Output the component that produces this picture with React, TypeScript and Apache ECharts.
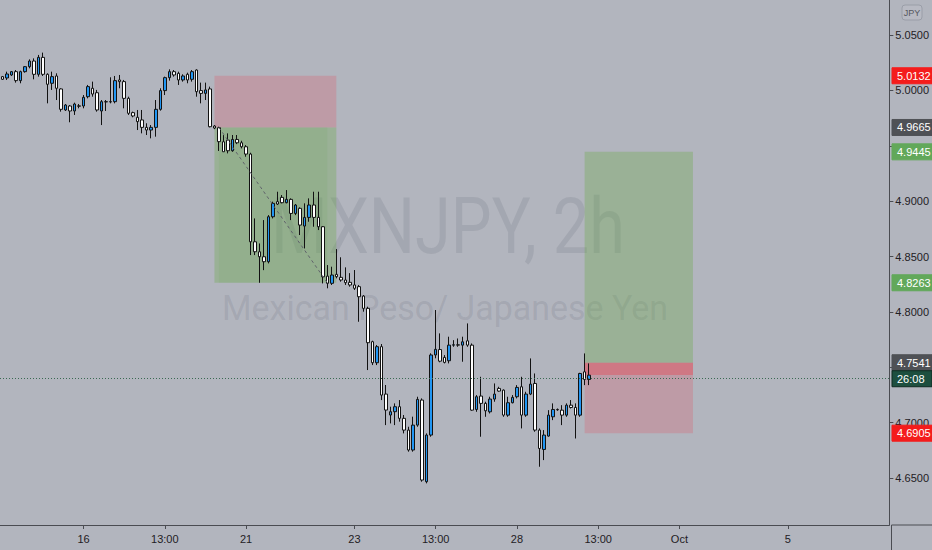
import React, { useEffect, useRef } from "react";
import * as echarts from "echarts";

// ---- candle data (MXNJPY, 2h) : open / close / low / high ----
const opens = [
  5.0124, 5.0112, 5.0139, 5.0169, 5.0088, 5.0169, 5.0214, 5.0265, 5.0145, 5.0298,
  5.0145, 5.0064, 5.013, 5.0013, 4.9823, 4.9859, 4.9814, 4.986, 4.9859, 4.9943,
  5.0019, 4.9979, 4.9814, 4.9898, 4.9896, 4.9898, 5.0094, 5.0079, 4.9928, 4.9799,
  4.9757, 4.9733, 4.9666, 4.9642, 4.9666, 4.9829, 4.9998, 5.0115, 5.0169, 5.0154,
  5.0094, 5.0145, 5.01, 5.0184, 4.9998, 4.9973, 5.0013, 4.9678, 4.9663, 4.9536,
  4.9551, 4.9455, 4.9557, 4.9527, 4.9491, 4.9425, 4.8633, 4.8543, 4.8498, 4.8453,
  4.8859, 4.8995, 4.9034, 4.8986, 4.9016, 4.8889, 4.8935, 4.8775, 4.8853, 4.8965,
  4.8853, 4.8769, 4.8323, 4.8258, 4.8339, 4.8312, 4.8288, 4.8267, 4.8243, 4.8228,
  4.8143, 4.8032, 4.7731, 4.7541, 4.7686, 4.7258, 4.7069, 4.7099, 4.7144, 4.7039,
  4.6933, 4.6753, 4.6978, 4.7204, 4.6467, 4.6888, 4.7611, 4.766, 4.7589, 4.7559,
  4.77, 4.7703, 4.77, 4.7739, 4.77, 4.7119, 4.724, 4.7174, 4.7098, 4.7213,
  4.7309, 4.7294, 4.7068, 4.718, 4.7234, 4.7324, 4.7068, 4.7258, 4.7354, 4.6933,
  4.6758, 4.6879, 4.7053, 4.7119, 4.7113, 4.7068, 4.7158, 4.7137, 4.7068, 4.7459,
  4.739,
];
const closes = [
  5.01, 5.0148, 5.0169, 5.0088, 5.0169, 5.0214, 5.0265, 5.0145, 5.0298, 5.0145,
  5.0055, 5.0124, 5.0019, 4.9829, 4.9868, 4.9814, 4.9877, 4.9857, 4.9937, 5.0034,
  4.9967, 4.9823, 4.9898, 4.9896, 4.9898, 5.0088, 5.0079, 4.9928, 4.9793, 4.9769,
  4.9718, 4.9666, 4.9642, 4.9666, 4.9829, 4.9998, 5.0115, 5.0169, 5.0139, 5.0094,
  5.013, 5.0094, 5.0169, 4.9988, 4.9973, 5.0004, 4.9672, 4.966, 4.9537, 4.9446,
  4.9455, 4.9557, 4.9527, 4.9491, 4.9425, 4.8633, 4.8543, 4.8498, 4.8453, 4.8859,
  4.898, 4.8974, 4.8986, 4.9016, 4.8889, 4.8965, 4.8784, 4.8853, 4.8965, 4.8853,
  4.8769, 4.8317, 4.8258, 4.8333, 4.8318, 4.8288, 4.8264, 4.8243, 4.8213, 4.8137,
  4.8032, 4.7722, 4.7541, 4.7686, 4.7249, 4.7114, 4.7099, 4.7144, 4.7039, 4.6933,
  4.6753, 4.6978, 4.721, 4.6482, 4.6888, 4.7611, 4.7662, 4.7555, 4.7544, 4.77,
  4.7703, 4.77, 4.773, 4.77, 4.7113, 4.7234, 4.7174, 4.7107, 4.7213, 4.7258,
  4.7285, 4.7068, 4.718, 4.7228, 4.7318, 4.7068, 4.7258, 4.7348, 4.6933, 4.6767,
  4.6888, 4.7068, 4.7119, 4.7116, 4.7068, 4.7158, 4.7137, 4.7068, 4.7444, 4.739,
  4.7429,
];
const lows = [
  5.0094, 5.0094, 5.013, 5.007, 5.0064, 5.016, 5.0199, 5.01, 5.0124, 5.013,
  4.9883, 5.0004, 4.9913, 4.9808, 4.9814, 4.9712, 4.9778, 4.9838, 4.9838, 4.9928,
  4.9943, 4.9808, 4.9687, 4.9814, 4.9883, 4.9883, 5.0019, 4.9838, 4.9778, 4.9757,
  4.9642, 4.9612, 4.9597, 4.9567, 4.9582, 4.9817, 4.9958, 5.0088, 5.0124, 5.0049,
  5.0079, 5.0064, 5.0079, 4.9943, 4.9883, 4.9913, 4.9666, 4.965, 4.9453, 4.9446,
  4.9431, 4.9446, 4.9515, 4.9476, 4.9401, 4.8513, 4.8513, 4.8263, 4.8377, 4.8438,
  4.8844, 4.8965, 4.898, 4.898, 4.8829, 4.8874, 4.8694, 4.8573, 4.8814, 4.8769,
  4.8739, 4.8257, 4.8213, 4.8243, 4.8303, 4.8273, 4.8243, 4.8228, 4.8198, 4.7911,
  4.8002, 4.7475, 4.752, 4.752, 4.7204, 4.6978, 4.6993, 4.6978, 4.7009, 4.6903,
  4.6738, 4.6738, 4.6963, 4.6467, 4.6452, 4.6873, 4.7581, 4.7545, 4.7535, 4.7535,
  4.7685, 4.7685, 4.755, 4.7685, 4.7107, 4.7098, 4.6873, 4.7053, 4.7083, 4.7189,
  4.7279, 4.7053, 4.7053, 4.7174, 4.7219, 4.6948, 4.7053, 4.7249, 4.6918, 4.6602,
  4.6662, 4.6873, 4.7023, 4.7107, 4.6978, 4.7053, 4.7128, 4.6857, 4.7053, 4.7339,
  4.7339,
];
const highs = [
  5.013, 5.0169, 5.0175, 5.0184, 5.0178, 5.022, 5.028, 5.0289, 5.032, 5.0341,
  5.0154, 5.0169, 5.0154, 5.0019, 4.9877, 4.9868, 4.9889, 4.9877, 4.9958, 5.0049,
  5.0079, 5.0004, 4.9913, 4.9913, 5.0118, 5.013, 5.0139, 5.0094, 4.9943, 4.9808,
  4.9823, 4.9823, 4.9703, 4.9687, 4.9913, 5.0019, 5.0124, 5.019, 5.0184, 5.0169,
  5.0145, 5.016, 5.0184, 5.019, 5.007, 5.007, 5.0034, 4.9687, 4.9672, 4.9596,
  4.9612, 4.9597, 4.9597, 4.9545, 4.9506, 4.9437, 4.8844, 4.8618, 4.8829, 4.8874,
  4.8995, 4.9085, 4.9055, 4.91, 4.9025, 4.8974, 4.8944, 4.898, 4.9025, 4.9085,
  4.9085, 4.8775, 4.8423, 4.8408, 4.8567, 4.8493, 4.8402, 4.835, 4.8378, 4.8243,
  4.8152, 4.8047, 4.774, 4.7701, 4.771, 4.734, 4.7144, 4.7174, 4.7204, 4.7069,
  4.6963, 4.7054, 4.7234, 4.7219, 4.6903, 4.7626, 4.8017, 4.7806, 4.761, 4.7776,
  4.7745, 4.776, 4.7776, 4.7896, 4.7715, 4.7249, 4.7414, 4.7189, 4.7234, 4.7354,
  4.7324, 4.73, 4.7234, 4.7249, 4.7339, 4.7414, 4.7279, 4.758, 4.7444, 4.6948,
  4.6933, 4.7113, 4.7174, 4.7128, 4.7158, 4.7174, 4.7204, 4.7174, 4.745, 4.7625,
  4.7535,
];

// ---- time axis ----
const slotCount = 197; // candles + empty space on the right
const tickIndices = [18, 36, 54, 78, 96, 114, 132, 150, 174];
const tickLabels = ["16", "13:00", "21", "23", "13:00", "28", "13:00", "Oct", "5"];

// ---- price axis ----
const priceTicks = [4.65, 4.7, 4.75, 4.8, 4.85, 4.9, 4.95, 5.0, 5.05];
// labels hidden behind the price badges in the reference are not drawn
const priceLabels = [4.65, 4.7, 4.8, 4.85, 4.9, 5.0, 5.05];
const priceMin = 4.6076;
const priceMax = 5.0816;

// ---- position tools ----
const shortStop = 5.0132;
const shortEntry = 4.9665;
const shortTarget = 4.8263;
const shortBars = [47, 74];
const shortFilledBars = [48, 72];
const longTarget = 4.9445;
const longEntry = 4.7541;
const longStop = 4.6905;
const longBars = [129, 153];
const lastPrice = 4.743;
const countdown = "26:08";

const BG = "#b2b5be";
const RED_BADGE = "#f41c1c";
const GRAY_BADGE = "#4f5156";
const GREEN_BADGE = "#62a85a";
const AXIS_FONT = '"Liberation Sans", Arial, sans-serif';

export default function App() {
  const ref = useRef<HTMLDivElement>(null);

  useEffect(() => {
    if (!ref.current) return;
    const chart = echarts.init(ref.current, null, { renderer: "svg" });
    const categories = Array.from({ length: slotCount }, (_, i) => String(i));
    const candles = opens.map((o, i) => [o, closes[i], lows[i], highs[i]]);
    const labelAt = (i: number) => {
      const k = tickIndices.indexOf(i);
      return k >= 0 ? tickLabels[k] : "";
    };
    const c = (i: number) => String(i);

    chart.setOption({
      animation: false,
      backgroundColor: BG,
      grid: { left: -3.32, right: 40.5, top: 0, bottom: 25 },
      xAxis: {
        type: "category",
        data: categories,
        boundaryGap: true,
        axisLine: { show: true, lineStyle: { color: "#4a4c52", width: 1 } },
        axisTick: {
          show: true,
          alignWithLabel: true,
          interval: (i: number) => tickIndices.indexOf(i) >= 0,
          length: 4,
          lineStyle: { color: "#4a4c52" },
        },
        axisLabel: {
          interval: (i: number) => tickIndices.indexOf(i) >= 0,
          formatter: (_v: string, i: number) => labelAt(i),
          color: "#1f2024",
          fontSize: 11,
          fontFamily: AXIS_FONT,
          margin: 8,
        },
        splitLine: { show: false },
      },
      yAxis: {
        type: "value",
        position: "right",
        min: priceMin,
        max: priceMax,
        axisLine: { show: true, lineStyle: { color: "#4a4c52", width: 1 } },
        axisTick: {
          show: true,
          length: 4,
          customValues: priceTicks,
          lineStyle: { color: "#4a4c52" },
        },
        axisLabel: {
          customValues: priceLabels,
          formatter: (v: number) => v.toFixed(4),
          color: "#1f2024",
          fontSize: 11,
          fontFamily: AXIS_FONT,
          margin: 6,
        },
        splitLine: { show: false },
      },
      series: [
        {
          type: "candlestick",
          data: candles,
          barWidth: 3,
          z: 3,
          itemStyle: {
            color: "#2196f3",
            color0: "#ffffff",
            borderColor: "#121212",
            borderColor0: "#121212",
            borderWidth: 1,
          },
          markArea: {
            silent: true,
            data: [
              [
                { xAxis: c(shortBars[0]), yAxis: shortStop, itemStyle: { color: "rgba(242,54,69,0.2)" } },
                { xAxis: c(shortBars[1]), yAxis: shortEntry },
              ],
              [
                { xAxis: c(shortBars[0]), yAxis: shortEntry, itemStyle: { color: "rgba(100,170,60,0.3)" } },
                { xAxis: c(shortBars[1]), yAxis: shortTarget },
              ],
              [
                { xAxis: c(shortFilledBars[0]), yAxis: shortEntry, itemStyle: { color: "rgba(90,160,70,0.1)" } },
                { xAxis: c(shortFilledBars[1]), yAxis: shortTarget },
              ],
              [
                { xAxis: c(longBars[0]), yAxis: longTarget, itemStyle: { color: "rgba(100,170,60,0.3)" } },
                { xAxis: c(longBars[1]), yAxis: longEntry },
              ],
              [
                { xAxis: c(longBars[0]), yAxis: longEntry, itemStyle: { color: "rgba(242,54,69,0.2)" } },
                { xAxis: c(longBars[1]), yAxis: longStop },
              ],
              [
                { xAxis: c(longBars[0]), yAxis: longEntry, itemStyle: { color: "rgba(242,54,69,0.35)" } },
                { xAxis: c(longBars[1]), yAxis: lastPrice },
              ],
            ],
          },
          markLine: {
            silent: true,
            symbol: ["none", "none"],
            label: { show: false },
            data: [
              [
                { coord: [c(shortFilledBars[0]), shortEntry], lineStyle: { color: "#60636b", type: [3, 3], width: 1 } },
                { coord: [c(shortFilledBars[1]), shortTarget] },
              ],
              { yAxis: lastPrice, lineStyle: { color: "#3b6a53", type: [1, 2], width: 1 } },
            ],
          },
        },
      ],
    });

    const yPix = (v: number) => chart.convertToPixel({ yAxisIndex: 0 }, v) as number;

    const measure = (text: string, font: string) => {
      const cv = document.createElement("canvas");
      const ctx = cv.getContext("2d");
      if (!ctx) return 1;
      ctx.font = font;
      return ctx.measureText(text).width || 1;
    };

    const watermark = (text: string, size: number, cx: number, cy: number, targetW: number) => {
      const font = `${size}px Roboto, "Liberation Sans", sans-serif`;
      const w = measure(text, font);
      return {
        type: "group",
        x: cx,
        y: cy,
        scaleX: targetW / w,
        z: 0,
        silent: true,
        children: [
          {
            type: "text",
            z: 0,
            style: {
              text,
              x: 0,
              y: 0,
              font,
              fill: "rgba(80,84,96,0.14)",
              align: "center",
              textAlign: "center",
              verticalAlign: "middle",
              textVerticalAlign: "middle",
            },
          },
        ],
      };
    };

    const badge = (text: string, cy: number, fill: string, stroke?: string) => ({
      type: "group",
      z: 100,
      silent: true,
      children: [
        {
          type: "rect",
          z: 100,
          shape: { x: 892, y: cy - 8, width: 40, height: 16 },
          style: { fill, stroke: stroke || fill, lineWidth: 1 },
        },
        {
          type: "text",
          z: 101,
          style: {
            text,
            x: 897,
            y: cy,
            font: `11px ${AXIS_FONT}`,
            fill: "#ffffff",
            align: "left",
            textAlign: "left",
            verticalAlign: "middle",
            textVerticalAlign: "middle",
          },
        },
      ],
    });

    const entryY = yPix(longEntry);
    chart.setOption({
      graphic: [
        watermark("MXNJPY, 2h", 78, 448, 226, 354),
        watermark("Mexican Peso/ Japanese Yen", 35, 445, 308, 446),
        // extend axis lines to the page edges
        { type: "line", z: 50, silent: true, shape: { x1: 891.5, y1: 525, x2: 932, y2: 525 }, style: { stroke: "#4a4c52", lineWidth: 1 } },
        { type: "line", z: 50, silent: true, shape: { x1: 891.5, y1: 525, x2: 891.5, y2: 550 }, style: { stroke: "#4a4c52", lineWidth: 1 } },
        badge(shortStop.toFixed(4), yPix(shortStop), RED_BADGE),
        badge(shortEntry.toFixed(4), yPix(shortEntry), GRAY_BADGE),
        badge(longTarget.toFixed(4), yPix(longTarget), GREEN_BADGE),
        badge(shortTarget.toFixed(4), yPix(shortTarget), GREEN_BADGE),
        badge(longEntry.toFixed(4), entryY, GRAY_BADGE),
        badge(countdown, entryY + 16, "#1d4f3f", "#0e2a21"),
        badge(longStop.toFixed(4), yPix(longStop), RED_BADGE),
        // currency button
        {
          type: "group",
          z: 100,
          silent: true,
          children: [
            {
              type: "rect",
              shape: { x: 902, y: 5, width: 20, height: 15, r: 3 },
              style: { fill: "rgba(255,255,255,0.08)", stroke: "#9a9ea8", lineWidth: 1 },
            },
            {
              type: "text",
              style: {
                text: "JPY",
                x: 912,
                y: 12.5,
                font: `9px ${AXIS_FONT}`,
                fill: "#55575e",
                align: "center",
                textAlign: "center",
                verticalAlign: "middle",
                textVerticalAlign: "middle",
              },
            },
          ],
        },
      ],
    });

    return () => chart.dispose();
  }, []);

  return (
    <div
      ref={ref}
      style={{ position: "absolute", left: 0, top: 0, width: 932, height: 550, background: BG }}
    />
  );
}
